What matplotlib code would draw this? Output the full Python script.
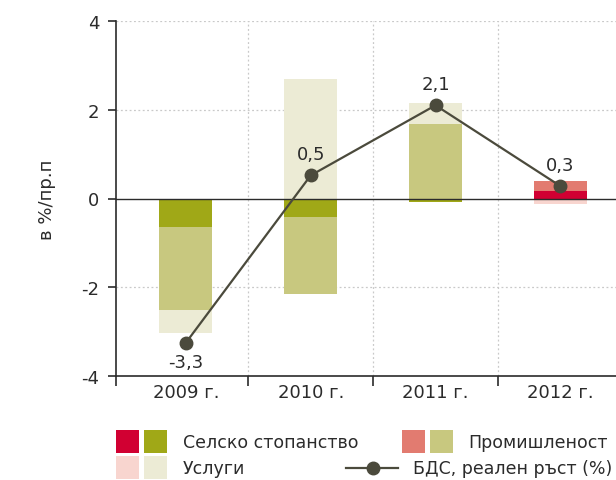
import matplotlib
matplotlib.use("Agg")
import matplotlib.pyplot as plt
from matplotlib.patches import Rectangle
from matplotlib.lines import Line2D
import numpy as np

years = ["2009 г.", "2010 г.", "2011 г.", "2012 г."]
agriculture = [-0.65, -0.41, -0.07, 0.18]
industry = [-1.87, -1.75, 1.68, 0.22]
services = [-0.51, 2.70, 0.47, -0.13]
gdp = [-3.25, 0.52, 2.10, 0.28]
gdp_labels = ["-3,3", "0,5", "2,1", "0,3"]
yticks = [-4, -2, 0, 2, 4]

green = ["#a0a817", "#c8c87f", "#ecebd5"]
red = ["#d10032", "#e27b70", "#f8d5cf"]
palette = [green, green, green, red]
line_col = "#4b4a3c"
text_col = "#2b2b2b"

plt.rcParams['font.family'] = ['DejaVu Sans']
FS = 13
LFS = 12.5

fig = plt.figure(figsize=(6.16, 4.81), dpi=100)
W, H = 616, 481
ax = fig.add_axes([116 / W, 1 - 377 / H, 1 - 116 / W, (377 - 22) / H])

x = np.arange(len(years))
width = 0.425
pos_base = np.zeros(len(years))
neg_base = np.zeros(len(years))
for si, series in enumerate([agriculture, industry, services]):
    for i, v in enumerate(series):
        col = palette[i][si]
        if v >= 0:
            ax.bar(x[i], v, width, bottom=pos_base[i], color=col, zorder=2, linewidth=0)
            pos_base[i] += v
        else:
            ax.bar(x[i], v, width, bottom=neg_base[i], color=col, zorder=2, linewidth=0)
            neg_base[i] += v

ax.axhline(0, color=text_col, lw=1.0, zorder=3)
ax.plot(x, gdp, color=line_col, lw=1.6, marker='o', markersize=9, zorder=4)
for i, (v, lab) in enumerate(zip(gdp, gdp_labels)):
    off = -19 if v < 0 else 21
    ax.annotate(lab, (x[i], v), xytext=(0, off), textcoords='offset pixels',
                ha='center', va='center', fontsize=FS, color=text_col, zorder=5)

ax.set_xlim(-0.56, 3.446)
ax.set_ylim(-4, 4)
ax.set_yticks(yticks)
ax.set_yticklabels([str(t) for t in yticks])
for t in [2, 4, -2]:
    ax.axhline(t, color="#c9c9c9", lw=0.9, ls=(0, (1.5, 2)), zorder=1)
for t in [0.5, 1.5, 2.5]:
    ax.axvline(t, color="#c9c9c9", lw=0.9, ls=(0, (1.5, 2)), zorder=1)

ax.set_xticks([-0.56, 0.5, 1.5, 2.5])
ax.set_xticklabels([])
ax.set_xticks(x, minor=True)
ax.set_xticklabels(years, minor=True)
ax.tick_params(axis='x', which='major', length=7, width=1.2, color=text_col, direction='out')
ax.tick_params(axis='x', which='minor', length=0, pad=5, labelsize=FS, labelcolor=text_col)
ax.tick_params(axis='y', length=6, width=1.2, color=text_col, labelsize=FS, labelcolor=text_col, pad=6)

for s in ['top', 'right']:
    ax.spines[s].set_visible(False)
for s in ['left', 'bottom']:
    ax.spines[s].set_color(text_col)
    ax.spines[s].set_linewidth(1.2)
ax.set_ylabel("в %/пр.п", fontsize=FS, color=text_col, labelpad=18)

# legend (manual)
def sw(xp, yp, col):
    fig.patches.append(Rectangle((xp / W, 1 - (yp + 23) / H), 23 / W, 23 / H,
                                 transform=fig.transFigure, color=col, lw=0))

sw(116, 431, red[0]); sw(144, 431, green[0])
fig.text(183 / W, 1 - 443 / H, "Селско стопанство", fontsize=LFS, color=text_col, va='center')
sw(402, 431, red[1]); sw(430, 431, green[1])
fig.text(468 / W, 1 - 443 / H, "Промишленост", fontsize=LFS, color=text_col, va='center')
sw(116, 457, red[2]); sw(144, 457, green[2])
fig.text(183 / W, 1 - 469 / H, "Услуги", fontsize=LFS, color=text_col, va='center')
fig.lines.append(Line2D([346 / W, 398 / W], [1 - 469 / H, 1 - 469 / H], transform=fig.transFigure,
                        color=line_col, lw=1.6))
fig.lines.append(Line2D([373 / W], [1 - 469 / H], transform=fig.transFigure,
                        color=line_col, marker='o', markersize=9))
fig.text(413 / W, 1 - 469 / H, "БДС, реален ръст (%)", fontsize=LFS, color=text_col, va='center')

fig.savefig("out.png", dpi=100)
